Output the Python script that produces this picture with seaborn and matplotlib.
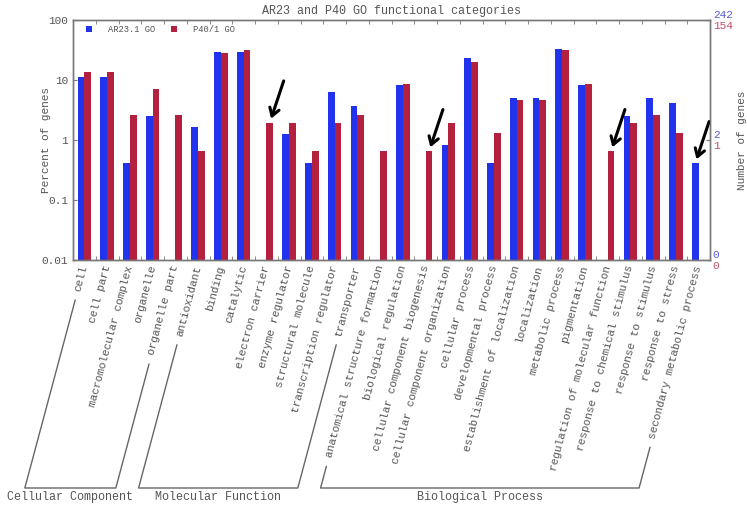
import numpy as np
import pandas as pd
import matplotlib
matplotlib.use('Agg')
import matplotlib.pyplot as plt
import seaborn as sns
from matplotlib.lines import Line2D
from matplotlib.ticker import NullLocator

nan = np.nan

categories = [
    'cell', 'cell part', 'macromolecular complex', 'organelle', 'organelle part',
    'antioxidant', 'binding', 'catalytic', 'electron carrier', 'enzyme regulator',
    'structural molecule', 'transcription regulator', 'transporter',
    'anatomical structure formation', 'biological regulation',
    'cellular component biogenesis', 'cellular component organization',
    'cellular process', 'developmental process', 'establishment of localization',
    'localization', 'metabolic process', 'pigmentation',
    'regulation of molecular function', 'response to chemical stimulus',
    'response to stimulus', 'response to stress', 'secondary metabolic process',
]

# percent of genes (nan = no bar)
ar23_pct = [11.4, 11.4, 0.41, 2.48, nan, 1.65, 28.9, 28.9, nan, 1.24,
            0.41, 6.4, 3.72, nan, 8.3, nan, 0.83, 23.0, 0.41, 4.96,
            4.96, 32.6, 8.3, nan, 2.48, 4.96, 4.13, 0.41]
p40_pct = [13.8, 13.8, 2.6, 7.2, 2.6, 0.65, 28.6, 31.4, 1.95, 1.95,
           0.65, 1.95, 2.6, 0.65, 8.5, 0.65, 1.95, 20.0, 1.3, 4.6,
           4.6, 31.2, 8.5, 0.65, 1.95, 2.6, 1.3, nan]

series = ['AR23.1 GO', 'P40/1 GO']
colors = {'AR23.1 GO': '#2233EE', 'P40/1 GO': '#B3213F'}

# right axis: gene counts at 100 %, 1 % and 0.01 %
right_ticks = [100, 1, 0.01]
ar23_counts = ['242', '2', '0']
p40_counts = ['154', '1', '0']

# GO groups: (name, first index, last index)
groups = [('Cellular Component', 0, 4),
          ('Molecular Function', 5, 12),
          ('Biological Process', 13, 27)]

# bars marked with an arrow
arrows = [('electron carrier', 'P40/1 GO'),
          ('cellular component biogenesis', 'P40/1 GO'),
          ('regulation of molecular function', 'P40/1 GO'),
          ('secondary metabolic process', 'AR23.1 GO')]

df = pd.DataFrame({
    'category': categories * 2,
    'percent': ar23_pct + p40_pct,
    'set': [series[0]] * len(categories) + [series[1]] * len(categories),
})

sns.set_style('white')
plt.rcParams['font.family'] = ['Liberation Mono', 'DejaVu Sans']
grey = '#555555'

W, H = 747, 508
fig = plt.figure(figsize=(W / 100, H / 100), dpi=100)
ax = fig.add_axes([73 / W, 1 - 260 / H, 637 / W, 240 / H])
ax.set_yscale('log')

sns.barplot(data=df, x='category', y='percent', hue='set', order=categories,
            hue_order=series, palette=colors, width=0.6, saturation=1,
            errorbar=None, linewidth=0, ax=ax)

ax.set_ylim(0.01, 100)
ax.set_xlim(-0.5, len(categories) - 0.5)
ax.set_yticks([100, 10, 1, 0.1, 0.01])
ax.set_yticklabels(['100', '10', '1', '0.1', '0.01'])
ax.yaxis.set_minor_locator(NullLocator())
ax.tick_params(axis='y', which='major', direction='in', length=3, labelsize=8,
               labelcolor=grey, color='#777777')

ax.set_xticks(range(len(categories)))
ax.set_xticklabels(categories, rotation=75, ha='right', va='center',
                   rotation_mode='anchor', fontsize=8, color=grey)
ax.tick_params(axis='x', which='major', length=0, pad=4)
ax.set_xticks(np.arange(0.5, len(categories) - 1, 1), minor=True)
ax.tick_params(axis='x', which='minor', direction='in', length=3, top=True,
               bottom=True, color='#777777')
ax.set_xlabel('')

ax.set_ylabel('Percent of genes', fontsize=8, color=grey)
ax.yaxis.set_label_coords(-0.035, 0.5)
ax.set_title('AR23 and P40 GO functional categories', fontsize=8.5,
             color=grey, pad=4)

for s in ax.spines.values():
    s.set_color('#777777')
    s.set_linewidth(1)

handles, labels = ax.get_legend_handles_labels()
ax.legend(handles, labels, ncol=2, frameon=False, loc='upper left',
          bbox_to_anchor=(0.012, 1.0), borderaxespad=0.2, fontsize=6.3,
          handlelength=0.7, handleheight=0.7, handletextpad=1.8,
          columnspacing=1.8, labelcolor=grey)

# right axis
ax2 = ax.twinx()
ax2.set_yscale('log')
ax2.set_ylim(0.01, 100)
ax2.set_yticks(right_ticks)
ax2.set_yticklabels([])
ax2.yaxis.set_minor_locator(NullLocator())
ax2.tick_params(axis='y', direction='in', length=3, color='#777777')
ax2.set_ylabel('Number of genes', fontsize=8, color=grey)
ax2.yaxis.set_label_coords(1.042, 0.5)
for s in ax2.spines.values():
    s.set_color('#777777')
    s.set_linewidth(1)

for v, b, r in zip(right_ticks, ar23_counts, p40_counts):
    ax.annotate(b, xy=(1, v), xycoords=('axes fraction', 'data'),
                xytext=(2, 3.8), textcoords='offset points', ha='left',
                va='center', fontsize=8, color='#5b5bd6')
    ax.annotate(r, xy=(1, v), xycoords=('axes fraction', 'data'),
                xytext=(2, -4.2), textcoords='offset points', ha='left',
                va='center', fontsize=8, color='#c0506a')

# arrows pointing at single-gene bars
offset = 0.15
for cat, ser in arrows:
    i = categories.index(cat)
    vals = ar23_pct if ser == series[0] else p40_pct
    x = i - offset if ser == series[0] else i + offset
    ax.annotate('', xy=(x, vals[i]), xytext=(10, 30), textcoords='offset points',
                arrowprops=dict(arrowstyle='->,head_length=0.55,head_width=0.35',
                                lw=2.2, color='black', shrinkA=0, shrinkB=3))

# group brackets under the rotated labels
fig.canvas.draw()
renderer = fig.canvas.get_renderer()
tick_labels = ax.get_xticklabels()
tan = np.tan(np.radians(75))
y_base = H - 488
gap = 9


def slant_point(i, y):
    lab = tick_labels[i]
    bb = lab.get_window_extent(renderer)
    xt = ax.transData.transform((i, 0))[0]
    ya = bb.y1 - 1.5
    return xt - (ya - y) / tan


def label_start(i):
    bb = tick_labels[i].get_window_extent(renderer)
    return bb.y0 + 1.5


inv = fig.transFigure.inverted()
for name, a, b in groups:
    ya_top = label_start(a) - gap
    yb_top = label_start(b) - gap
    pts = [(slant_point(a, ya_top), ya_top),
           (slant_point(a, y_base), y_base),
           (slant_point(b, y_base), y_base),
           (slant_point(b, yb_top), yb_top)]
    fpts = inv.transform(pts)
    fig.add_artist(Line2D(fpts[:, 0], fpts[:, 1], color='#666666', lw=1))
    xc = (pts[1][0] + pts[2][0]) / 2
    fc = inv.transform((xc, y_base - 9))
    fig.text(fc[0], fc[1], name, ha='center', va='center', fontsize=8.5,
             color=grey)

fig.savefig('out.png', dpi=100, facecolor='white')
